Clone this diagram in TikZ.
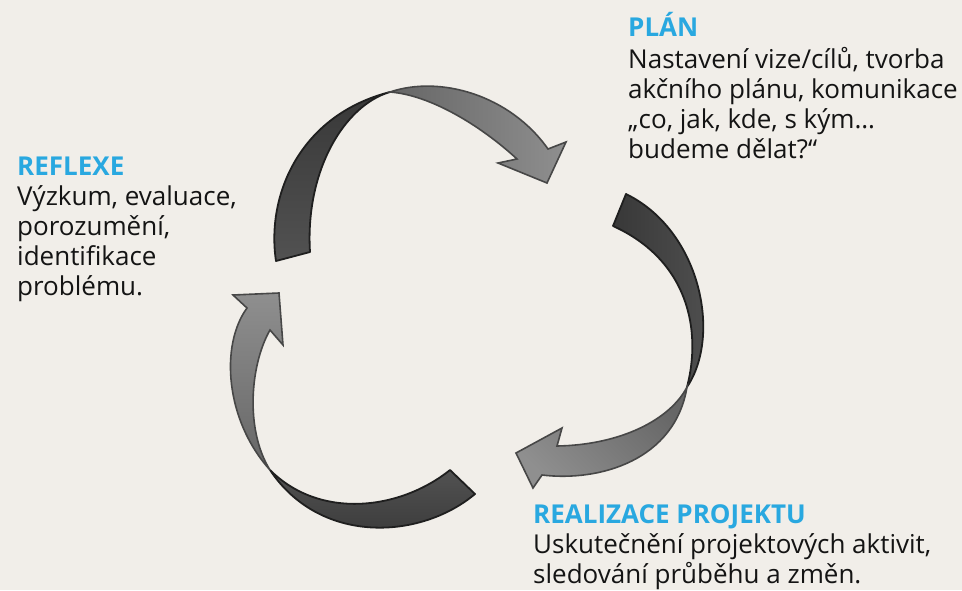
\documentclass[tikz,border=0pt]{standalone}
\usepackage{fontspec}
\setmainfont{Open Sans}
\definecolor{bg}{RGB}{241,238,233}
\definecolor{headblue}{RGB}{41,168,224}
\definecolor{txt}{RGB}{20,20,20}
\tikzset{
  head/.style={anchor=base west, inner sep=0pt, text=headblue, font=\fontsize{26}{30}\selectfont\bfseries},
  body/.style={anchor=base west, inner sep=0pt, align=left, text=txt, font=\fontsize{26}{30}\selectfont},
  darkpart/.style={draw=black!88, line width=1.8pt, line join=round, top color=black!78, bottom color=black!68, shading angle=#1},
  lightpart/.style={draw=black!72, line width=1.6pt, line join=miter, top color=black!60, bottom color=black!44, shading angle=#1},
}
\begin{document}
\begin{tikzpicture}[x=1pt,y=-1pt]
\useasboundingbox (0,0) rectangle (962,590);
\fill[bg] (0,0) rectangle (962,590);

% top arrow
\path[darkpart=0] (276,261) .. controls (266,195) and (300,115) .. (390,92)
  .. controls (345,105) and (305,170) .. (310,252) -- cycle;
\path[lightpart=90] (390,92) .. controls (440,75) and (510,95) .. (548,149)
  -- (566,142) -- (547,183) -- (498,163) -- (517,159)
  .. controls (480,125) and (430,95) .. (390,92) -- cycle;

% right arrow
\path[darkpart=90] (626,194) .. controls (700,230) and (722,335) .. (687,387)
  .. controls (702,330) and (688,260) .. (613,226) -- cycle;
\path[lightpart=-45] (687,387) .. controls (675,460) and (600,482) .. (542,475)
  -- (533,488) -- (516,453) -- (562,428) -- (557,446)
  .. controls (620,445) and (670,420) .. (687,387) -- cycle;

% bottom-left arrow
\path[darkpart=180] (475,494) .. controls (420,540) and (320,545) .. (270,470)
  .. controls (320,520) and (400,510) .. (450,470) -- cycle;
\path[lightpart=180] (270,470) .. controls (225,420) and (220,345) .. (247,308)
  -- (233,295) -- (279,293) -- (283,345) -- (270,330)
  .. controls (250,365) and (245,430) .. (270,470) -- cycle;

% texts (body nodes anchored at the baseline of their last line)
\node[head] (planH) at (628,36) {PLÁN};
\node[body] (planB) at (628,158) {Nastavení vize/cílů, tvorba\\akčního plánu, komunikace\\„co, jak, kde, s kým…\\budeme dělat?“};
\node[head] (refH) at (17,175) {REFLEXE};
\node[body] (refB) at (17,295) {Výzkum, evaluace,\\porozumění,\\identifikace\\problému.};
\node[head] (realH) at (533,523) {REALIZACE PROJEKTU};
\node[body] (realB) at (533,583) {Uskutečnění projektových aktivit,\\sledování průběhu a změn.};
\end{tikzpicture}
\end{document}
